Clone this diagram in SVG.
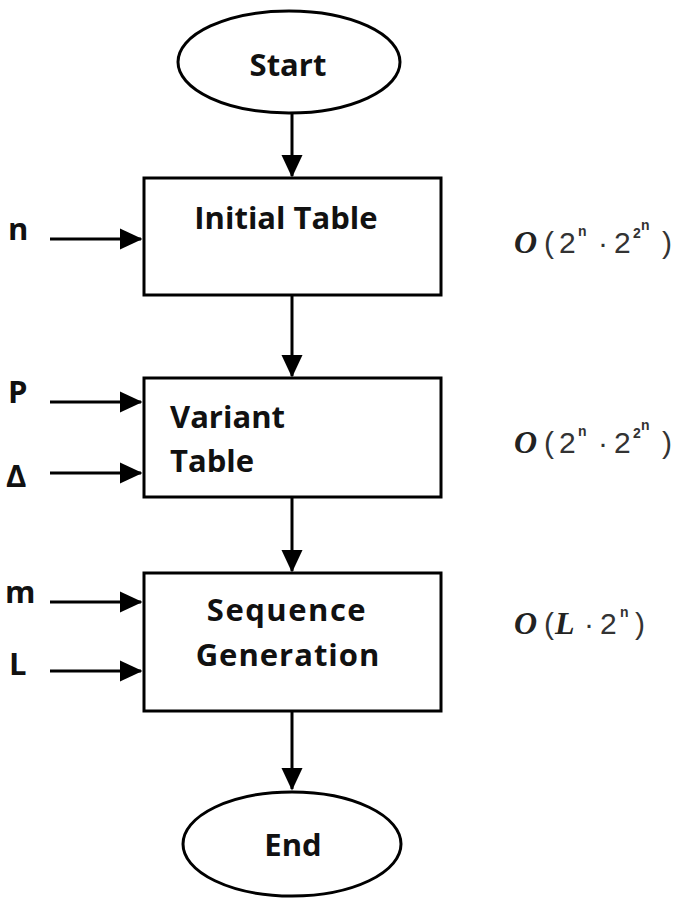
<svg xmlns="http://www.w3.org/2000/svg" width="685" height="901" viewBox="0 0 685 901">
<style>
.sh{fill:#fff;stroke:#000;stroke-width:3}
.t{font-family:"Open Sans","Liberation Sans",sans-serif;font-weight:bold;font-size:31px;fill:#111}
.c{stroke:#000;stroke-width:3;fill:none}
.cx{font-family:"Liberation Sans",sans-serif;font-size:30px;fill:#333}
.cxo{font-family:"Liberation Serif",serif;font-style:italic;font-weight:bold;font-size:32px;fill:#222}
.sup{font-family:"Liberation Sans",sans-serif;font-weight:bold;font-size:14px;fill:#333}
</style>
<defs>
<marker id="ah" markerWidth="8" markerHeight="8" refX="7" refY="4" orient="auto" markerUnits="strokeWidth">
<path d="M0,0.5 L7.5,4 L0,7.5 Z" fill="#000"/>
</marker>
</defs>
<g id="connectors">
<line class="c" x1="292" y1="113" x2="292" y2="176" marker-end="url(#ah)"/>
<line class="c" x1="292" y1="295" x2="292" y2="376" marker-end="url(#ah)"/>
<line class="c" x1="292" y1="497" x2="292" y2="571" marker-end="url(#ah)"/>
<line class="c" x1="292" y1="711" x2="292" y2="789" marker-end="url(#ah)"/>
<line class="c" x1="50" y1="239" x2="141" y2="239" marker-end="url(#ah)"/>
<line class="c" x1="50" y1="402" x2="141" y2="402" marker-end="url(#ah)"/>
<line class="c" x1="50" y1="473" x2="141" y2="473" marker-end="url(#ah)"/>
<line class="c" x1="50" y1="602" x2="141" y2="602" marker-end="url(#ah)"/>
<line class="c" x1="50" y1="671" x2="141" y2="671" marker-end="url(#ah)"/>
</g>
<g id="start">
<ellipse class="sh" cx="289" cy="62" rx="111" ry="51"/>
<text class="t" x="288" y="76" text-anchor="middle">Start</text>
</g>
<g id="initial-table">
<rect class="sh" x="144" y="178" width="297" height="117"/>
<text class="t" x="286" y="229" text-anchor="middle">Initial Table</text>
</g>
<g id="variant-table">
<rect class="sh" x="144" y="378" width="297" height="119"/>
<text class="t" x="170" y="428">Variant</text>
<text class="t" x="170" y="472">Table</text>
</g>
<g id="sequence-generation">
<rect class="sh" x="144" y="573" width="297" height="138"/>
<text class="t" x="287" y="621" text-anchor="middle" letter-spacing="1.5">Sequence</text>
<text class="t" x="288" y="666" text-anchor="middle" letter-spacing="1">Generation</text>
</g>
<g id="end">
<ellipse class="sh" cx="292" cy="844" rx="109" ry="52"/>
<text class="t" x="293" y="856" text-anchor="middle">End</text>
</g>
<g id="inputs">
<text class="t" x="8" y="240" font-size="28">n</text>
<text class="t" x="8" y="403" font-size="28">P</text>
<text class="t" x="6" y="487" font-size="28" font-weight="normal">Δ</text>
<text class="t" x="5" y="603" font-size="28">m</text>
<text class="t" x="9" y="675" font-size="28">L</text>
</g>
<g id="complexity">
<text class="cxo" x="514" y="253">O</text>
<text class="cx" x="544" y="253">(</text>
<text class="cx" x="559" y="253">2</text>
<text class="sup" x="578" y="236">n</text>
<text class="cx" x="598" y="253">·</text>
<text class="cx" x="614" y="253">2</text>
<text class="sup" x="633" y="238">2</text>
<text class="sup" x="641" y="230" font-size="10">n</text>
<text class="cx" x="662" y="253">)</text>

<text class="cxo" x="514" y="453">O</text>
<text class="cx" x="544" y="453">(</text>
<text class="cx" x="559" y="453">2</text>
<text class="sup" x="578" y="436">n</text>
<text class="cx" x="598" y="453">·</text>
<text class="cx" x="614" y="453">2</text>
<text class="sup" x="633" y="438">2</text>
<text class="sup" x="641" y="430" font-size="10">n</text>
<text class="cx" x="662" y="453">)</text>

<text class="cxo" x="514" y="634">O</text>
<text class="cx" x="544" y="634">(</text>
<text class="cxo" x="555" y="634">L</text>
<text class="cx" x="584" y="634">·</text>
<text class="cx" x="600" y="634">2</text>
<text class="sup" x="620" y="617">n</text>
<text class="cx" x="635" y="634">)</text>
</g>
</svg>
